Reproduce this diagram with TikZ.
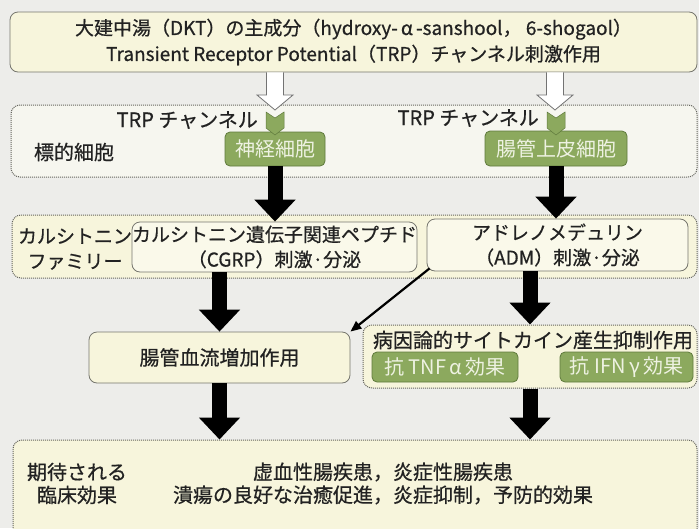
\documentclass[tikz,border=0pt]{standalone}
\usepackage{fontspec}
\setmainfont{Noto Sans CJK JP}[BoldFont={Noto Sans CJK JP}, BoldFeatures={FakeBold=0.6}]
\usetikzlibrary{arrows.meta,calc}

\definecolor{bg}{HTML}{EDEDEA}
\definecolor{cream}{HTML}{F7F5DC}
\definecolor{creamlt}{HTML}{FAF9EA}
\definecolor{regionlt}{HTML}{F6F6EF}
\definecolor{edge}{HTML}{76766E}
\definecolor{dotedge}{HTML}{66665F}
\definecolor{gfill}{HTML}{8CA95E}
\definecolor{gedge}{HTML}{5F7A3C}
\definecolor{gtext}{HTML}{EEF2E2}
\definecolor{txt}{HTML}{222222}

\newcommand\hollowarr[2]{%
  \draw[hollow] let \p1=(#1), \p2=(#2) in
    (\x2-8.5pt,\y1) -- (\x2-8.5pt,\y2+15pt) -- (\x2-18pt,\y2+15pt) -- (\x2,\y2)
    -- (\x2+18pt,\y2+15pt) -- (\x2+8.5pt,\y2+15pt) -- (\x2+8.5pt,\y1);}
\newcommand\chevron[1]{%
  \filldraw[chev] ($(#1)+(-9,0)$) -- ($(#1)+(0,6)$) -- ($(#1)+(9,0)$) -- ($(#1)+(9,16)$)
    -- ($(#1)+(0,23)$) -- ($(#1)+(-9,16)$) -- cycle;}

\begin{document}
\begin{tikzpicture}[x=1pt,y=-1pt,
  font=\fontsize{19}{25}\selectfont\bfseries, text=txt,
  solidbox/.style={draw=edge, line width=0.8pt, fill=cream, rounded corners=8pt, inner sep=0pt, align=center},
  dotregion/.style={draw=dotedge, line width=1pt, dash pattern=on 1pt off 1pt, fill=cream, rounded corners=9pt, inner sep=0pt},
  greenbox/.style={draw=gedge, line width=0.8pt, fill=gfill, rounded corners=5pt, text=gtext, inner sep=0pt, font=\fontsize{20}{25}\selectfont\mdseries},
  bigarrow/.style={line width=15pt, black, -{Triangle[width=40pt,length=22pt]}},
  thinarrow/.style={line width=2.2pt, black, -{Triangle[width=9pt,length=11pt]}},
  hollow/.style={draw=gray!90!black, fill=white, line width=0.8pt},
  chev/.style={fill=gfill, draw=gedge, line width=0.5pt},
  lbl/.style={inner sep=0pt, align=center}]

\useasboundingbox (0,0) rectangle (699,528);
\clip (0,0) rectangle (699,528);
\fill[bg] (0,0) rectangle (699,528);

% top box
\node[solidbox, fill=cream, minimum width=687pt, minimum height=60pt,
      font=\fontsize{19}{26}\selectfont\bfseries] (top) at (353.5,42)
  {大建中湯（DKT）の主成分（hydroxy-\,α\,-sanshool，\ 6-shogaol）\\
   Transient Receptor Potential（TRP）チャンネル刺激作用};

% region 2: target cells
\node[dotregion, fill=regionlt, minimum width=686pt, minimum height=72pt] (reg2) at (354,141) {};
\node[lbl, anchor=east, font=\fontsize{20}{25}\selectfont\bfseries] (trpL) at (258,120) {TRP チャンネル};
\node[lbl, anchor=east, font=\fontsize{20}{25}\selectfont\bfseries] (trpR) at (539,118) {TRP チャンネル};
\node[lbl, font=\fontsize{20}{25}\selectfont\bfseries] (target) at (74,152) {標的細胞};
\node[greenbox, minimum width=100pt, minimum height=34pt] (gL) at (275,149) {神経細胞};
\node[greenbox, minimum width=142pt, minimum height=35pt] (gR) at (556,148.5) {腸管上皮細胞};

\coordinate (hL) at (275,110);
\coordinate (hR) at (555,110);
\hollowarr{top.south -| hL}{hL}
\hollowarr{top.south -| hR}{hR}
\chevron{275,112}
\chevron{556,112}

% region 3: calcitonin family
\node[dotregion, minimum width=685pt, minimum height=63pt] (reg3) at (354.5,246.5) {};
\node[lbl] (calfam) at (75,249) {カルシトニン\\ファミリー};
\node[solidbox, fill=creamlt, minimum width=275pt, minimum height=50pt] (cgrp) at (274.5,247)
  {カルシトニン遺伝子関連ペプチド\\（CGRP）刺激·分泌};
\node[solidbox, fill=creamlt, minimum width=261pt, minimum height=52pt] (adm) at (557.5,245)
  {アドレノメデュリン\\（ADM）刺激·分泌};

\draw[bigarrow] (gL.south) -- (cgrp.north -| gL.south);
\draw[bigarrow] (gR.south) -- (adm.north -| gR.south);

% row 4
\node[solidbox, minimum width=261pt, minimum height=51pt, font=\fontsize{20}{25}\selectfont\bfseries] (blood) at (219.5,357.5) {腸管血流増加作用};
\node[dotregion, minimum width=334pt, minimum height=63pt] (rreg) at (530,356.5) {};
\node[lbl, font=\fontsize{20}{25}\selectfont\bfseries] (cyto) at (533,340) {病因論的サイトカイン産生抑制作用};
\node[greenbox, minimum width=146pt, minimum height=30pt] (tnf) at (445,367) {抗 TNF\,α\,効果};
\node[greenbox, minimum width=133pt, minimum height=30pt] (ifn) at (626.5,367) {抗 IFN\,γ\,効果};

\draw[bigarrow] (cgrp.south -| blood.north) -- (blood.north);
\draw[bigarrow] (adm.south -| rreg.north) -- (rreg.north);
\draw[thinarrow] ($(adm.south west)+(3,-3)$) -- (blood.north east);

% bottom region
\node[dotregion, minimum width=684pt, minimum height=100pt] (clin) at (355,490) {};
\node[lbl, font=\fontsize{20}{23}\selectfont\bfseries] (clinlbl) at (77,483.5) {期待される\\臨床効果};
\node[lbl, font=\fontsize{20}{23}\selectfont\bfseries] (clintxt) at (383,483.5)
  {虚血性腸疾患，炎症性腸疾患\\潰瘍の良好な治癒促進，炎症抑制，予防的効果};

\draw[bigarrow] (blood.south) -- (blood.south |- clin.north);
\draw[bigarrow] (rreg.south) -- (rreg.south |- clin.north);

\end{tikzpicture}
\end{document}
